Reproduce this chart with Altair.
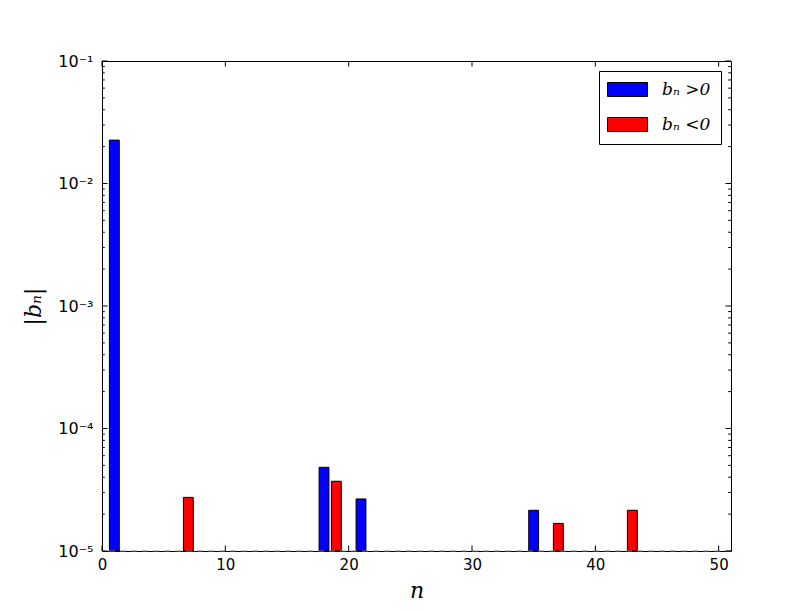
import altair as alt
import pandas as pd

# ---- data ----
n_vals = [1, 7, 18, 19, 21, 35, 37, 43]
b_abs = [0.0226, 2.74e-5, 4.82e-5, 3.71e-5, 2.66e-5, 2.15e-5, 1.68e-5, 2.15e-5]
sign = ["bₙ >0", "bₙ <0", "bₙ >0", "bₙ <0", "bₙ >0", "bₙ >0", "bₙ <0", "bₙ <0"]
series_names = ["bₙ >0", "bₙ <0"]
series_colors = ["#0000ff", "#ff0000"]

x_ticks = [0, 10, 20, 30, 40, 50]
y_exps = [-5, -4, -3, -2, -1]
y_labels = ["10⁻⁵", "10⁻⁴", "10⁻³", "10⁻²", "10⁻¹"]
y_major = [10.0 ** e for e in y_exps]
y_minor = [k * 10.0 ** e for e in y_exps[:-1] for k in range(2, 10)]
baseline = 1e-5

W, H = 629, 490

bars = pd.DataFrame({"n": n_vals, "b": b_abs, "sign": sign})
bars["x0"] = bars["n"] - 0.4
bars["x1"] = bars["n"] + 0.4
bars["base"] = baseline

xscale = alt.Scale(domain=[0, 51], nice=False, zero=False)
yscale = alt.Scale(type="log", domain=[1e-5, 1e-1], nice=False)

label_expr = " : ".join(
    f"round(log(datum.value)/LN10) == {e} ? '{lab}'" for e, lab in zip(y_exps, y_labels)
) + " : ''"

legend = alt.Legend(
    title=None,
    orient="top-right",
    offset=10,
    padding=10,
    strokeColor="black",
    fillColor="white",
    cornerRadius=0,
    symbolType="M-2.857,-1L2.857,-1L2.857,1L-2.857,1Z",
    symbolSize=196,
    symbolStrokeColor="black",
    symbolStrokeWidth=1,
    symbolOffset=10,
    labelOffset=26,
    labelFont="DejaVu Serif",
    labelFontStyle="italic",
    labelFontSize=17,
    labelColor="black",
    rowPadding=16,
)

rects = alt.Chart(bars).mark_rect(stroke="black", strokeWidth=1).encode(
    x=alt.X("x0:Q", scale=xscale,
            axis=alt.Axis(values=x_ticks, title="n", ticks=False, domain=False, grid=False,
                          labelFlush=False, labelOverlap=False,
                          labelFont="DejaVu Sans", labelFontSize=15, labelColor="black",
                          labelPadding=6, titleFont="DejaVu Serif", titleFontStyle="italic",
                          titleFontWeight="normal", titleFontSize=22, titlePadding=8,
                          titleColor="black")),
    x2="x1:Q",
    y=alt.Y("b:Q", scale=yscale,
            axis=alt.Axis(values=y_major, labelExpr=label_expr, title="|bₙ|", ticks=False,
                          labelFlush=False, labelOverlap=False,
                          domain=False, grid=False, labelFont="DejaVu Sans", labelFontSize=16,
                          labelColor="black", labelPadding=9, titleFont="DejaVu Serif",
                          titleFontStyle="italic", titleFontWeight="normal", titleFontSize=22,
                          titlePadding=12, titleColor="black")),
    y2="base:Q",
    color=alt.Color("sign:N", scale=alt.Scale(domain=series_names, range=series_colors),
                    legend=legend),
)

dash = alt.Chart(pd.DataFrame({"y": [baseline]})).mark_rule(
    color="#808080", strokeDash=[6, 5], strokeWidth=1
).encode(y=alt.Y("y:Q", scale=yscale))

ymaj = pd.DataFrame({"y": y_major})
ymin = pd.DataFrame({"y": y_minor})
xmaj = pd.DataFrame({"x": x_ticks})

def yticks(df, length):
    left = alt.Chart(df).mark_rule(color="black", strokeWidth=1).encode(
        y=alt.Y("y:Q", scale=yscale), x=alt.value(0), x2=alt.value(length))
    right = alt.Chart(df).mark_rule(color="black", strokeWidth=1).encode(
        y=alt.Y("y:Q", scale=yscale), x=alt.value(W), x2=alt.value(W - length))
    return left + right

xb = alt.Chart(xmaj).mark_rule(color="black", strokeWidth=1).encode(
    x=alt.X("x:Q", scale=xscale), y=alt.value(H), y2=alt.value(H - 5.5))
xt = alt.Chart(xmaj).mark_rule(color="black", strokeWidth=1).encode(
    x=alt.X("x:Q", scale=xscale), y=alt.value(0), y2=alt.value(5.5))

chart = alt.layer(
    rects, dash, yticks(ymaj, 5.5), yticks(ymin, 2.8), xb, xt
).properties(
    width=W, height=H,
    autosize=alt.AutoSizeParams(type="none"),
    padding={"left": 94, "top": 53, "right": 73, "bottom": 53},
    background="white",
).configure_view(stroke="black", strokeWidth=1)

chart.save("out.html", embed_options={"renderer": "svg", "actions": False})
